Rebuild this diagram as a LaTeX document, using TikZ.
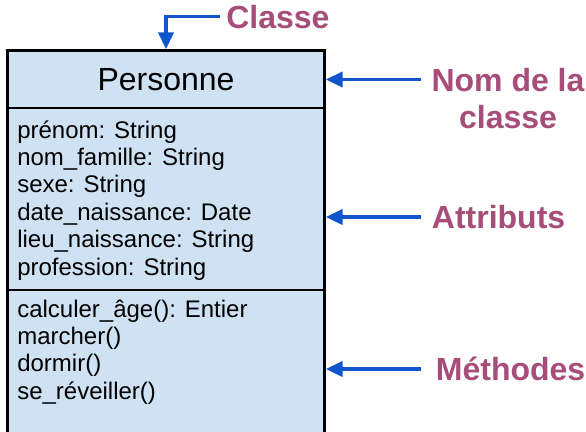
\documentclass[tikz,border=0pt]{standalone}
\usepackage{fontspec}
\setmainfont{Liberation Sans}
\usetikzlibrary{arrows.meta}
\definecolor{boitebleue}{HTML}{CFE2F3}
\definecolor{flechebleue}{HTML}{1155CC}
\definecolor{mauve}{HTML}{A64D79}
\tikzset{
  comp/.style={rectangle,draw=black,line width=0.9pt,fill=boitebleue,
    minimum width=237pt,inner sep=0pt},
  membre/.style={inner sep=0pt,font=\fontsize{18}{20.5}\selectfont},
  etiquette/.style={inner ysep=0pt,text=mauve,font=\fontsize{24}{27.75}\selectfont\bfseries},
  fleche/.style={-{Triangle[length=12.5pt,width=11.5pt]},line width=2.3pt,
    draw=flechebleue,shorten >=1pt},
}

\begin{document}
\begin{tikzpicture}[x=0.75pt,y=-0.75pt]
	\path[use as bounding box,clip] (0,0) rectangle (586,432);
	% la classe
	\node[comp,minimum height=42.75pt,font=\fontsize{24}{28}\selectfont] (nom) at (166,79.5) {Personne};
	\node[comp,minimum height=136.5pt] (attr) at (166,199) {};
	\node[comp,minimum height=120pt] (meth) at (166,370) {};
	\draw[line width=1.6pt] (meth.south west) |- (nom.north east) -- (meth.south east);
	\foreach \a [count=\i] in {prénom: String,nom\_famille: String,sexe: String,
	    date\_naissance: Date,lieu\_naissance: String,profession: String}
	  \node[membre,anchor=base west] (attr\i) at (17,{138+27.4*(\i-1)}) {\a};
	\foreach \m [count=\i] in {calculer\_âge(): Entier,marcher(),dormir(),se\_réveiller()}
	  \node[membre,anchor=base west] (meth\i) at (17,{317+27.4*(\i-1)}) {\m};
	% les etiquettes
	\node[etiquette,anchor=base west,inner xsep=4.5pt] (classelbl) at (220,28) {Classe};
	\node[etiquette,anchor=north,align=center,inner xsep=8pt] (nomlbl) at (508,68) {Nom de la\\classe};
	\node[etiquette,anchor=west,inner xsep=8pt] (attlbl) at (421,217) {Attributs};
	\node[etiquette,anchor=west,inner xsep=11pt] (methlbl) at (421,369) {Méthodes};
	\draw[fleche] (classelbl.west) -| (nom.north);
	\draw[fleche] (nomlbl.west |- nom.east) -- (nom.east);
	\draw[fleche] (attlbl.west) -- (attlbl.west -| attr.east);
	\draw[fleche] (methlbl.west) -- (methlbl.west -| meth.east);
\end{tikzpicture}
\end{document}
